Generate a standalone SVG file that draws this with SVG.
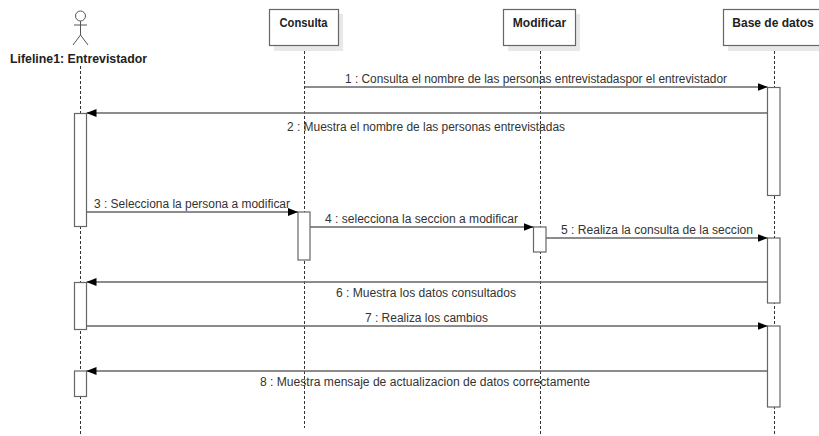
<svg xmlns="http://www.w3.org/2000/svg" width="819" height="436" viewBox="0 0 819 436">
<style>
.bg{fill:#ffffff}
.head{fill:#ffffff;stroke:#666666;stroke-width:1.2}
.shadow{fill:#e8e8e8}
.hl{font-family:"Liberation Sans",Arial,sans-serif;font-size:12px;font-weight:bold;fill:#222222;text-anchor:middle}
.life{stroke:#333333;stroke-width:1;stroke-dasharray:3,2;fill:none}
.act{fill:#ffffff;stroke:#666666;stroke-width:1.2}
.msg{stroke:#666666;stroke-width:1.6;fill:none}
.ml{font-family:"Liberation Sans",Arial,sans-serif;font-size:12px;fill:#333333;text-anchor:middle}
.actor{stroke:#555555;stroke-width:1;fill:none}
</style>
<defs>
<marker id="arr" viewBox="0 0 10 8" refX="10" refY="4" markerWidth="10" markerHeight="8" markerUnits="userSpaceOnUse" orient="auto">
<path d="M0,0 L10,4 L0,8 Z" fill="#000000"/>
</marker>
</defs>
<rect class="bg" x="0" y="0" width="819" height="436"/>

<g id="lifelines">
<line class="life" x1="80.5" y1="66" x2="80.5" y2="436"/>
<line class="life" x1="304.5" y1="46" x2="304.5" y2="428"/>
<line class="life" x1="540.5" y1="46" x2="540.5" y2="436"/>
<line class="life" x1="774.5" y1="46" x2="774.5" y2="436"/>
</g>

<g id="actor-entrevistador">
<circle class="actor" cx="80.5" cy="16" r="5"/>
<line class="actor" x1="80.5" y1="21" x2="80.5" y2="35"/>
<line class="actor" x1="74" y1="25" x2="87" y2="25"/>
<line class="actor" x1="80.5" y1="35" x2="73" y2="45"/>
<line class="actor" x1="80.5" y1="35" x2="88" y2="45"/>
<text class="hl" x="78.5" y="63" textLength="137" lengthAdjust="spacingAndGlyphs">Lifeline1: Entrevistador</text>
</g>

<g id="node-consulta">
<rect class="shadow" x="274" y="14" width="69" height="37"/>
<rect class="head" x="269.5" y="9.5" width="69" height="36"/>
<text class="hl" x="303.5" y="27" textLength="48" lengthAdjust="spacingAndGlyphs">Consulta</text>
</g>

<g id="node-modificar">
<rect class="shadow" x="508" y="14" width="72" height="37"/>
<rect class="head" x="503.5" y="9.5" width="72" height="36"/>
<text class="hl" x="539.5" y="27">Modificar</text>
</g>

<g id="node-base">
<rect class="shadow" x="728" y="14" width="102" height="37"/>
<rect class="head" x="723.5" y="9.5" width="102" height="36"/>
<text class="hl" x="773" y="27">Base de datos</text>
</g>

<g id="activations">
<rect class="act" x="74.5" y="113.5" width="12" height="113"/>
<rect class="act" x="74.5" y="282.5" width="12" height="47"/>
<rect class="act" x="74.5" y="371" width="12" height="25.5"/>
<rect class="act" x="298" y="212" width="12" height="48"/>
<rect class="act" x="533.5" y="227" width="12.5" height="25"/>
<rect class="act" x="767.5" y="87.5" width="12.5" height="108"/>
<rect class="act" x="767.5" y="238" width="12.5" height="65"/>
<rect class="act" x="767.5" y="326" width="12.5" height="81"/>
</g>

<g id="connectors">
<line class="msg" x1="305" y1="87" x2="767.5" y2="87" marker-end="url(#arr)"/>
<line class="msg" x1="767.5" y1="113" x2="86.5" y2="113" marker-end="url(#arr)"/>
<line class="msg" x1="86.5" y1="212" x2="298" y2="212" marker-end="url(#arr)"/>
<line class="msg" x1="310" y1="227" x2="533.5" y2="227" marker-end="url(#arr)"/>
<line class="msg" x1="546" y1="238" x2="767.5" y2="238" marker-end="url(#arr)"/>
<line class="msg" x1="767.5" y1="282" x2="86.5" y2="282" marker-end="url(#arr)"/>
<line class="msg" x1="86.5" y1="326" x2="767.5" y2="326" marker-end="url(#arr)"/>
<line class="msg" x1="767.5" y1="371" x2="86.5" y2="371" marker-end="url(#arr)"/>
<text class="ml" x="536" y="83" textLength="382" lengthAdjust="spacingAndGlyphs">1 : Consulta el nombre de las personas entrevistadaspor el entrevistador</text>
<text class="ml" x="426" y="131" textLength="278" lengthAdjust="spacingAndGlyphs">2 : Muestra el nombre de las personas entrevistadas</text>
<text class="ml" x="192" y="208" textLength="196" lengthAdjust="spacingAndGlyphs">3 : Selecciona la persona a modificar</text>
<text class="ml" x="421.5" y="223" textLength="193" lengthAdjust="spacingAndGlyphs">4 : selecciona la seccion a modificar</text>
<text class="ml" x="657" y="234" textLength="192" lengthAdjust="spacingAndGlyphs">5 : Realiza la consulta de la seccion</text>
<text class="ml" x="426" y="297" textLength="180" lengthAdjust="spacingAndGlyphs">6 : Muestra los datos consultados</text>
<text class="ml" x="426.5" y="322" textLength="123" lengthAdjust="spacingAndGlyphs">7 : Realiza los cambios</text>
<text class="ml" x="425" y="386" textLength="330" lengthAdjust="spacingAndGlyphs">8 : Muestra mensaje de actualizacion de datos correctamente</text>
</g>
</svg>
